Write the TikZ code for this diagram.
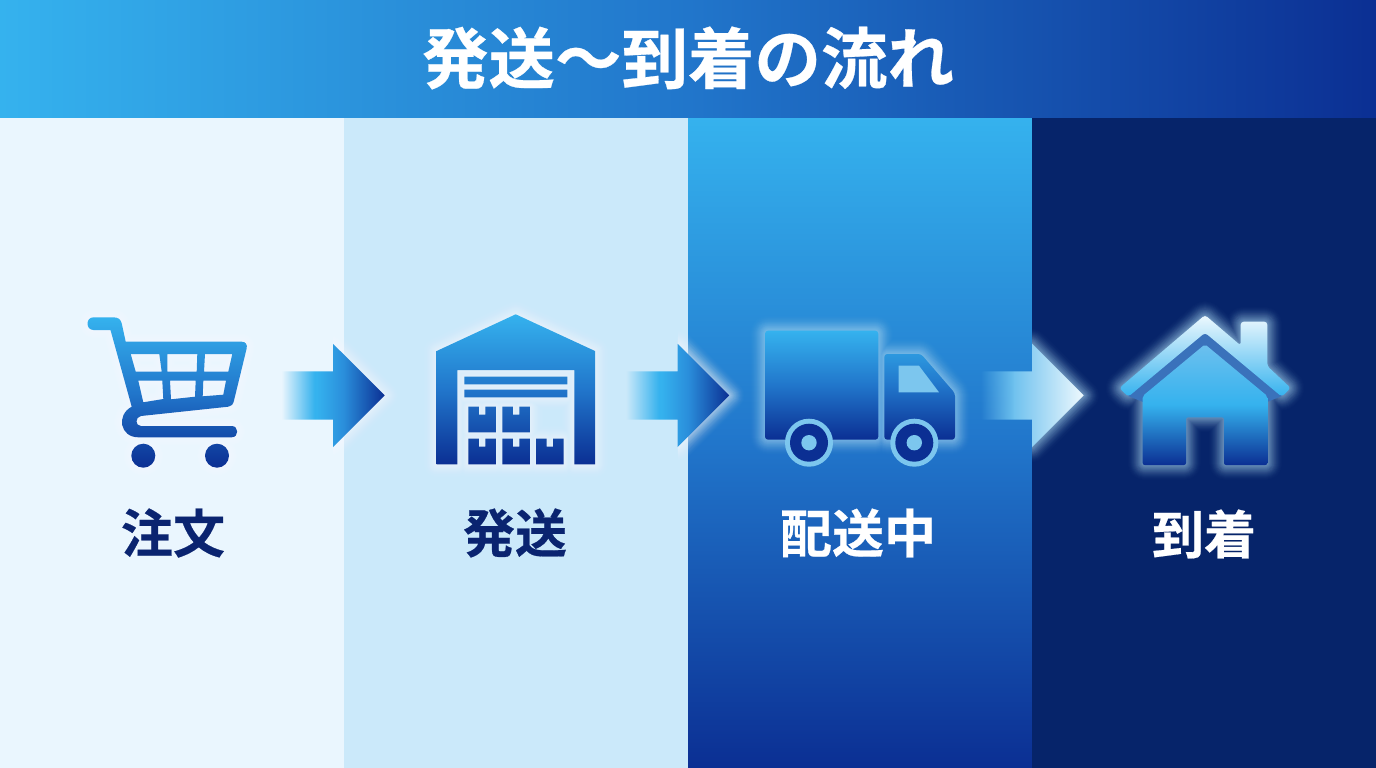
\documentclass[tikz,border=0pt]{standalone}
\usepackage{fontspec}
\usepackage{tikz}
\usetikzlibrary{shapes.arrows,fadings,calc}
\newfontfamily\cjk[BoldFont={Noto Sans CJK JP Bold},BoldFeatures={FakeBold=0.4}]{Noto Sans CJK JP}

\definecolor{skyblue}{HTML}{35B2EE}
\definecolor{midblue}{HTML}{2176CB}
\definecolor{deepblue}{HTML}{0B2F93}
\definecolor{navyblue}{HTML}{06246A}
\definecolor{paleone}{HTML}{EAF6FE}
\definecolor{paletwo}{HTML}{CBE9FA}
\definecolor{ringblue}{HTML}{7CC6EE}
\definecolor{glowblue}{HTML}{B4E2FA}
\definecolor{gapblue}{HTML}{3A72BB}
\definecolor{labelnavy}{HTML}{0A2470}
\definecolor{headblue}{HTML}{2A8EDB}
\definecolor{paleblue}{HTML}{6CC0EE}
\definecolor{tipblue}{HTML}{EEF9FE}

\pgfdeclarehorizontalshading{flowdark}{100bp}{color(0bp)=(skyblue); color(42bp)=(skyblue);
	color(55bp)=(headblue); color(75bp)=(deepblue); color(100bp)=(deepblue)}
\pgfdeclarehorizontalshading{flowlight}{100bp}{color(0bp)=(paleblue); color(40bp)=(paleblue);
	color(75bp)=(tipblue); color(100bp)=(tipblue)}
\pgfdeclarehorizontalshading{tailshade}{100bp}{color(0bp)=(black); color(25bp)=(black);
	color(41bp)=(white); color(100bp)=(white)}
\pgfdeclarefading{tailfade}{\pgfuseshading{tailshade}}

\newcommand{\glowpath}[3]{\foreach \w [evaluate=\w as \op using {.1*(1-\w/(#3+2))}] in {2,4,...,#3}{\draw[#1,opacity=\op,line width=\w pt,line join=round] #2;}}
\newcommand{\glowhead}[2]{\begin{scope}
	\clip (#1) ++(-52,-90) rectangle ++(95,180);
	\glowpath{#2}{(#1) -- ++(-52,-51.5) -- ++(0,103) -- cycle}{32}
	\end{scope}}
\def\wbox#1#2{(#1,#2) -- (#1+10.5,#2) -- (#1+10.5,#2+8) -- (#1+17,#2+8) -- (#1+17,#2) -- (#1+27.5,#2)
	-- (#1+27.5,#2+25.7) -- (#1,#2+25.7) -- cycle}
\def\cartpath{(93.5,317.3) -- (113,317.3) .. controls (118,317.3) and (120.5,319) .. (121.7,323.3) -- (125.7,341.7)
	-- (241.7,341.7) .. controls (245.5,341.7) and (247.5,344.5) .. (246.7,348.3) -- (234,400.5)
	.. controls (233,404.5) and (231.5,406.3) .. (228.3,406.7) -- (141,416) .. controls (135,417) and (135,426) .. (141,426)
	-- (231.7,426) .. controls (239,426) and (239,437.3) .. (231.7,437.3) -- (138.3,437.3)
	.. controls (120,437.3) and (116,415) .. (131.7,406.7) -- (110.5,330) -- (93.5,330)
	.. controls (85.5,330) and (85.5,317.3) .. (93.5,317.3) -- cycle
	(130.7,354) -- (159.3,354) -- (161.7,371.7) -- (135.7,371.7) -- cycle
	(167.3,354) -- (197.3,354) -- (196.7,371.7) -- (167.3,371.7) -- cycle
	(205,354) -- (232.3,354) -- (228.3,371.7) -- (204,371.7) -- cycle
	(138.3,380.7) -- (162.3,380.7) -- (163.3,399) -- (143.3,402.3) -- cycle
	(170,380.7) -- (195.7,380.7) -- (195,396.7) -- (171,399.3) -- cycle
	(203.3,380.7) -- (226,380.7) -- (223.3,394.7) -- (202.7,396.3) -- cycle
	(143.3,455.7) circle (12pt) (217,455.7) circle (12pt)}
\def\housepath{(515.7,314.3) -- (595,351) -- (595,464.3) -- (574.3,464.3) -- (574.3,370) -- (457.3,370)
	-- (457.3,464.3) -- (436.7,464.3) -- (436.7,351) -- cycle
	(464.3,376.7) rectangle (567.3,384.3) (464.3,389.7) rectangle (567.3,397.3)
	\wbox{468.3}{406.7} \wbox{502.3}{406.7} \wbox{468.3}{438.7} \wbox{502.3}{438.7} \wbox{536}{438.7}}
\def\truckpath{[rounded corners=3pt] (765,330.7) -- (878.3,330.7) -- (878.3,439.7) -- (765,439.7) -- cycle
	(884.3,354) -- (921,354) -- (955,393.3) -- (955,439.7) -- (884.3,439.7) -- cycle}
\def\roofpath{[rounded corners=3pt] (1205,315) -- (1240.7,345.5) -- (1240.7,321.7) -- (1267.3,321.7) -- (1267.3,366)
	-- (1290.7,388) -- (1281.7,396.7) -- (1205,332.7) -- (1128.3,396.7) -- (1119.3,388) -- cycle}
\def\bodypath{[rounded corners=2pt] (1205,344.3) -- (1267.3,396) -- (1267.3,465) -- (1224,465) -- (1224,417.3) -- (1186,417.3)
	-- (1186,465) -- (1142.7,465) -- (1142.7,396) -- cycle}

\begin{document}
\begin{tikzpicture}[x=1pt,y=-1pt,
	banner/.style={left color=skyblue,right color=deepblue,middle color=midblue},
	iconfill/.style={top color=skyblue,bottom color=deepblue,middle color=midblue,even odd rule},
	flowarrow/.style={single arrow,inner xsep=0pt,inner ysep=24pt,minimum height=103pt,
		single arrow head extend=27.5pt,single arrow tip angle=90,single arrow head indent=0pt,
		anchor=tip,path fading=tailfade},
	steptext/.style={font=\cjk\bfseries\fontsize{52}{52}\selectfont,inner sep=0pt}]
\useasboundingbox (0,0) rectangle (1376,768);
\fill[paleone] (0,117) rectangle (344,768);
\fill[paletwo] (344,117) rectangle (688,768);
\path[top color=skyblue,bottom color=deepblue,middle color=midblue] (688,117) rectangle (1032,768);
\fill[navyblue] (1032,117) rectangle (1376,768);
\path[banner] (0,0) rectangle (1376,117);
\node[text=white,font=\cjk\bfseries\fontsize{66.5}{66.5}\selectfont,inner sep=0pt] (title) at (688,58) {発送〜到着の流れ};

\coordinate (tipA) at (385,395.5);
\coordinate (tipB) at (729.5,395.5);
\coordinate (tipC) at (1084,395.5);
\glowhead{tipA}{white}
\glowhead{tipB}{white}
\glowhead{tipC}{glowblue}
\node[flowarrow,shade,shading=flowdark] (arrowA) at (tipA) {};
\node[flowarrow,shade,shading=flowdark] (arrowB) at (tipB) {};
\node[flowarrow,shade,shading=flowlight] (arrowC) at (tipC) {};

\glowpath{white}{\cartpath}{30}
\path[iconfill] \cartpath;
\glowpath{white}{\housepath}{30}
\path[iconfill] \housepath;

\glowpath{glowblue}{\truckpath}{32}
\path[iconfill] \truckpath;
\fill[ringblue] (898.7,365.7) -- (919,365.7) -- (939,392.3) -- (898.7,392.3) -- cycle;
\fill[ringblue] (809,442.7) circle (24pt) (914.3,442.7) circle (24pt);
\fill[deepblue] (809,442.7) circle (19pt) (914.3,442.7) circle (19pt);
\fill[ringblue] (809,442.7) circle (7.7pt) (914.3,442.7) circle (7.7pt);

\glowpath{glowblue}{\roofpath \bodypath}{32}
\fill[gapblue] (1205,330) -- (1282,396) -- (1267,402) -- (1143,402) -- (1128,396) -- cycle;
\path[top color=paleblue,bottom color=deepblue,middle color=skyblue] \bodypath;
\path[top color=tipblue,bottom color=skyblue] \roofpath;

\node[steptext,text=labelnavy] (order) at (173,533) {注文};
\node[steptext,text=labelnavy] (ship) at (515,533) {発送};
\node[steptext,text=white] (deliver) at (858,533) {配送中};
\node[steptext,text=white] (arrive) at (1204,534) {到着};
\end{tikzpicture}
\end{document}
